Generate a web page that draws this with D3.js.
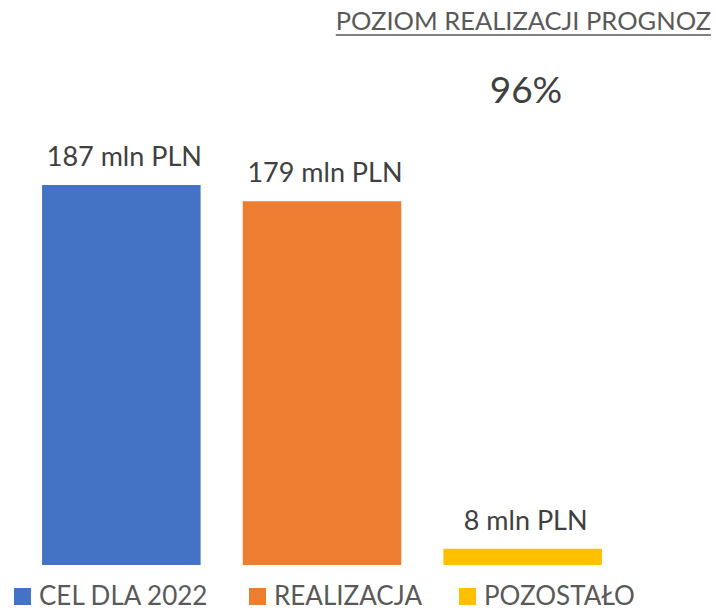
<!DOCTYPE html>
<html>
<head>
<meta charset="utf-8">
<script src="https://cdn.jsdelivr.net/npm/d3@7"></script>
<style>
  body { margin: 0; background: #fff; }
  text { font-family: Lato, "Open Sans", sans-serif; }
</style>
</head>
<body>
<script>
var categories = ["CEL DLA 2022", "REALIZACJA", "POZOSTAŁO"];
var values = [187, 179, 8];
var valueLabels = ["187 mln PLN", "179 mln PLN", "8 mln PLN"];
var colors = ["#4472C4", "#ED7D31", "#FFC000"];
var titleText = "POZIOM REALIZACJI PROGNOZ";
var percentText = "96%";

var width = 716;
var height = 610;

var svg = d3.select("body").append("svg")
    .attr("width", width)
    .attr("height", height);

var x = d3.scaleBand()
    .domain(categories)
    .range([22, 622])
    .paddingInner(0.21)
    .paddingOuter(0.1);

var y = d3.scaleLinear()
    .domain([0, 187])
    .range([565, 185]);

svg.selectAll("rect.bar")
    .data(categories)
    .enter().append("rect")
        .attr("class", "bar")
        .attr("x", function(d) { return x(d); })
        .attr("y", function(d, i) { return y(values[i]); })
        .attr("width", x.bandwidth())
        .attr("height", function(d, i) { return y(0) - y(values[i]); })
        .attr("fill", function(d, i) { return colors[i]; });

svg.selectAll("text.val")
    .data(categories)
    .enter().append("text")
        .attr("class", "val")
        .attr("x", function(d) { return x(d) + x.bandwidth() / 2 + 3; })
        .attr("y", function(d, i) { return y(values[i]) - 19; })
        .attr("text-anchor", "middle")
        .attr("font-size", 27)
        .attr("fill", "#404040")
        .text(function(d, i) { return valueLabels[i]; });

// title + underline
var title = svg.append("text")
    .attr("x", 711)
    .attr("y", 30)
    .attr("text-anchor", "end")
    .attr("font-size", 25.5)
    .attr("fill", "#595959")
    .text(titleText);
var tb = title.node().getBBox();
svg.append("line")
    .attr("x1", tb.x).attr("x2", tb.x + tb.width)
    .attr("y1", 35).attr("y2", 35)
    .attr("stroke", "#595959")
    .attr("stroke-width", 1.5);

svg.append("text")
    .attr("x", 526)
    .attr("y", 103)
    .attr("text-anchor", "middle")
    .attr("font-size", 37)
    .attr("fill", "#404040")
    .text(percentText);

// legend
var legendX = [14, 249, 459];
var legend = svg.selectAll("g.leg")
    .data(categories)
    .enter().append("g")
        .attr("class", "leg")
        .attr("transform", function(d, i) { return "translate(" + legendX[i] + ",588)"; });
legend.append("rect")
    .attr("width", 17).attr("height", 17)
    .attr("fill", function(d, i) { return colors[i]; });
legend.append("text")
    .attr("x", 25)
    .attr("y", 17)
    .attr("font-size", 26)
    .attr("fill", "#595959")
    .text(function(d) { return d; });
</script>
</body>
</html>
